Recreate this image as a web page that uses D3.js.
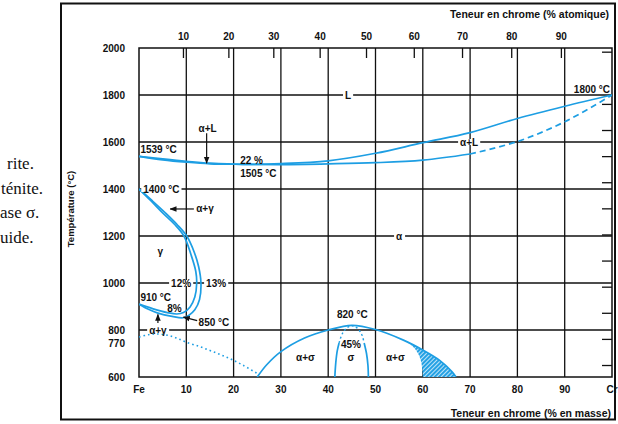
<!DOCTYPE html>
<html>
<head>
<meta charset="utf-8">
<script src="https://cdn.jsdelivr.net/npm/d3@7"></script>
<style>
  body { margin: 0; background: #fff; }
  svg text { font-family: "Liberation Sans", Arial, sans-serif; fill: #111; }
</style>
</head>
<body>
<div id="chart"></div>
<script>
// ---------- data (wt% Cr, temperature °C) ----------
var massTicks    = [0, 10, 20, 30, 40, 50, 60, 70, 80, 90, 100];
var massLabels   = ["Fe", "10", "20", "30", "40", "50", "60", "70", "80", "90", "Cr"];
var atomicLabels = [10, 20, 30, 40, 50, 60, 70, 80, 90];
var atomicAtMass = [9.4, 19.0, 28.5, 38.3, 48.1, 58.2, 68.4, 78.8, 89.3];
var tempLabels   = [600, 770, 800, 1000, 1200, 1400, 1600, 1800, 2000];
var tempGrid     = [800, 1000, 1200, 1400, 1600, 1800];
var fahrenheitTicks = [3600, 3200, 3000, 2800, 2600, 2400, 2200, 2000, 1800, 1600, 1400, 1200];

var liquidus = [[0,1539],[5,1528],[10,1518],[15,1510],[22,1505],[30,1508],[40,1520],[50,1552],[60,1597],[70,1640],[80,1700],[90,1752],[100,1800]];
var solidus  = [[0,1539],[5,1524],[10,1514],[15,1507],[22,1505],[30,1504],[40,1507],[50,1512],[60,1523],[70,1549]];
var solidusDashed = [[70,1549],[80,1602],[90,1686],[100,1800]];

var gammaInner = [[0,1400],[2.5,1350],[5,1298],[7.5,1250],[9.5,1200],[11,1120],[12,1050],[12.2,1000],[11.8,940],[10.8,898],[9.4,874],[8,868],[6,874],[3,890],[0,910]];
var gammaOuter = [[0,1400],[2.8,1350],[5.5,1300],[8,1250],[10.1,1200],[11.7,1130],[12.6,1070],[13.1,1000],[12.8,930],[11.8,886],[10.5,862],[9.3,852],[7,858],[4,872],[2,888],[0,910]];

var curie = [[0,770],[2,780],[4,783],[6,778],[8,765],[10,748],[13,728],[16,705],[19,680],[22,650],[25,615]];

var sigmaDome  = [[25,600],[27,652],[30,708],[35,766],[40,800],[45,820],[50,802],[55.9,757],[60,715],[63.5,672],[66.2,622],[67,600]];
var sigmaLeft  = [[41.4,600],[41.6,660],[41.9,710],[42.3,745]];
var sigmaTop   = [[42.3,745],[43,785],[44,810],[45,818],[46,810],[47,785],[47.6,745]];
var sigmaRight = [[47.6,745],[48.1,700],[48.4,650],[48.5,600]];
var hatchEdge  = [[55.9,757],[57.6,735],[59,700],[59.7,660],[60,600]];

// text annotations: [text, wt%, °C, anchor, white gap]
var notes = [
  ["L", 44.2, 1800, "middle", true],
  ["α+L", 69.8, 1600, "middle", true],
  ["α+L", 14.5, 1658, "middle", false],
  ["1539 °C", 0.3, 1566, "start", false],
  ["22 %", 21.4, 1520, "start", false],
  ["1505 °C", 21.4, 1467, "start", false],
  ["1800 °C", 99.6, 1824, "end", false],
  ["1400 °C", 0.9, 1400, "start", true],
  ["α+γ", 12.1, 1315, "start", false],
  ["γ", 4.5, 1133, "middle", false],
  ["12%", 8.9, 1000, "middle", true],
  ["13%", 16.3, 1000, "middle", true],
  ["910 °C", 0.3, 939, "start", false],
  ["8%", 7.5, 892, "middle", false],
  ["850 °C", 12.6, 833, "start", false],
  ["α+γ", 4.0, 800, "middle", true],
  ["α", 55, 1200, "middle", true],
  ["820 °C", 45.1, 864, "middle", false],
  ["45%", 44.8, 740, "middle", false],
  ["α+σ", 35.2, 684, "middle", false],
  ["σ", 44.8, 684, "middle", false],
  ["α+σ", 54.2, 684, "middle", false]
];
var arrows = [
  [[14.3,1637],[14.3,1510]],
  [[11.6,1315],[6.6,1315]],
  [[12.3,840],[9.4,855]],
  [[4.0,830],[4.0,866]]
];
// visible ends of the legend lines that sit left of the frame
var sideNotes  = ["rite.", "ténite.", "ase σ.", "uide."];
var sideStarts = [7, 1, 0, 0];

// ---------- layout ----------
var W = 618, H = 424;
var blue = "#1d9ee3";

var x = d3.scaleLinear().domain([0, 100]).range([139, 612]);
var y = d3.scaleLinear().domain([600, 2000]).range([377, 48]);

var svg = d3.select("#chart").append("svg")
  .attr("width", W).attr("height", H);

var defs = svg.append("defs");
defs.append("clipPath").attr("id", "plotclip")
  .append("rect").attr("x", x(0)).attr("y", y(2000))
  .attr("width", x(100) - x(0)).attr("height", y(600) - y(2000));
var pat = defs.append("pattern").attr("id", "hatch")
  .attr("patternUnits", "userSpaceOnUse").attr("width", 3).attr("height", 3)
  .attr("patternTransform", "rotate(45)");
pat.append("rect").attr("width", 3).attr("height", 3).attr("fill", "#bfe4f8");
pat.append("rect").attr("width", 1.9).attr("height", 3).attr("fill", blue);
defs.append("marker").attr("id", "head")
  .attr("viewBox", "0 0 10 10").attr("refX", 9).attr("refY", 5)
  .attr("markerWidth", 7).attr("markerHeight", 7).attr("orient", "auto")
  .attr("markerUnits", "userSpaceOnUse")
  .append("path").attr("d", "M0,1 L10,5 L0,9 z").attr("fill", "#111");

// side text
svg.append("g").selectAll("text").data(sideNotes).enter().append("text")
  .attr("x", function (d, i) { return sideStarts[i]; })
  .attr("y", function (d, i) { return 169 + i * 24.5; })
  .style("font-family", "'Liberation Serif', 'Times New Roman', serif")
  .style("font-size", "17px")
  .text(function (d) { return d; });

// outer frame
svg.append("rect").attr("x", 61).attr("y", 3.5).attr("width", 554).attr("height", 416)
  .attr("fill", "none").attr("stroke", "#111").attr("stroke-width", 2);

// grid
var grid = svg.append("g").attr("stroke", "#111").attr("stroke-width", 1.3);
grid.selectAll("line.v").data(massTicks.slice(1, -1)).enter().append("line")
  .attr("x1", function (d) { return x(d); }).attr("x2", function (d) { return x(d); })
  .attr("y1", y(2000)).attr("y2", y(600));
grid.selectAll("line.h").data(tempGrid).enter().append("line")
  .attr("y1", function (d) { return y(d); }).attr("y2", function (d) { return y(d); })
  .attr("x1", x(0)).attr("x2", x(100));
svg.append("rect").attr("x", x(0)).attr("y", y(2000))
  .attr("width", x(100) - x(0)).attr("height", y(600) - y(2000))
  .attr("fill", "none").attr("stroke", "#111").attr("stroke-width", 1.5);

// atomic ticks along the top, Fahrenheit ticks along the right
grid.selectAll("line.a").data(atomicAtMass).enter().append("line")
  .attr("x1", function (d) { return x(d); }).attr("x2", function (d) { return x(d); })
  .attr("y1", y(2000)).attr("y2", y(2000) + 10);
grid.selectAll("line.f").data(fahrenheitTicks).enter().append("line")
  .attr("x1", x(100) - 10).attr("x2", x(100))
  .attr("y1", function (d) { return y((d - 32) * 5 / 9); })
  .attr("y2", function (d) { return y((d - 32) * 5 / 9); });

// axis labels
var lab = svg.append("g").style("font-size", "10px").style("font-weight", "bold");
lab.selectAll("text.t").data(atomicLabels).enter().append("text")
  .attr("x", function (d, i) { return x(atomicAtMass[i]); }).attr("y", 39.5)
  .attr("text-anchor", "middle").text(function (d) { return d; });
lab.selectAll("text.b").data(massTicks).enter().append("text")
  .attr("x", function (d) { return x(d); }).attr("y", 392.5)
  .attr("text-anchor", "middle").text(function (d, i) { return massLabels[i]; });
lab.selectAll("text.l").data(tempLabels).enter().append("text")
  .attr("x", 125).attr("y", function (d) { return y(d) + 3.5 + (d === 770 ? 6 : 0); })
  .attr("text-anchor", "end").text(function (d) { return d; });
lab.append("text").attr("x", 609).attr("y", 17.5).attr("text-anchor", "end")
  .style("font-size", "10.5px").text("Teneur en chrome (% atomique)");
lab.append("text").attr("x", 611).attr("y", 417).attr("text-anchor", "end")
  .style("font-size", "10.5px").text("Teneur en chrome (% en masse)");
lab.append("text").attr("transform", "translate(73.5,209) rotate(-90)")
  .attr("text-anchor", "middle").style("font-size", "9.5px").text("Température (°C)");

// curves
var line = d3.line()
  .x(function (d) { return x(d[0]); })
  .y(function (d) { return y(d[1]); })
  .curve(d3.curveCatmullRom.alpha(0.5));
var plot = svg.append("g").attr("clip-path", "url(#plotclip)");

// hatched area inside the right side of the sigma dome
var domeRight = sigmaDome.filter(function (d) { return d[0] >= 55.9; });
var hatchPath = line(domeRight) + "L" + line(hatchEdge.slice().reverse()).slice(1) + "Z";
plot.append("path").attr("d", hatchPath).attr("fill", "url(#hatch)").attr("stroke", "none");

function curve(pts, dash, w) {
  plot.append("path").attr("d", line(pts)).attr("fill", "none")
    .attr("stroke", blue).attr("stroke-width", w || 1.7)
    .attr("stroke-dasharray", dash || null);
}
curve(liquidus);
curve(solidus);
curve(solidusDashed, "6,4");
curve(gammaInner);
curve(gammaOuter);
curve(curie, "1.6,3", 1.6);
curve(sigmaDome);
curve(sigmaLeft);
curve(sigmaRight);
curve(sigmaTop, "2,2.5", 1.4);

// annotations
var ann = svg.append("g").style("font-size", "10px").style("font-weight", "bold");
notes.forEach(function (n) {
  var g = ann.append("g");
  var t = g.append("text").attr("x", x(n[1])).attr("y", y(n[2]) + 3.5)
    .attr("text-anchor", n[3]).text(n[0]);
  if (n[4]) {
    var b = t.node().getBBox();
    g.insert("rect", "text").attr("x", b.x - 2).attr("y", y(n[2]) - 3)
      .attr("width", b.width + 4).attr("height", 6).attr("fill", "#fff");
  }
});
ann.selectAll("line").data(arrows).enter().append("line")
  .attr("x1", function (d) { return x(d[0][0]); }).attr("y1", function (d) { return y(d[0][1]); })
  .attr("x2", function (d) { return x(d[1][0]); }).attr("y2", function (d) { return y(d[1][1]); })
  .attr("stroke", "#111").attr("stroke-width", 1.2).attr("marker-end", "url(#head)");
</script>
</body>
</html>
